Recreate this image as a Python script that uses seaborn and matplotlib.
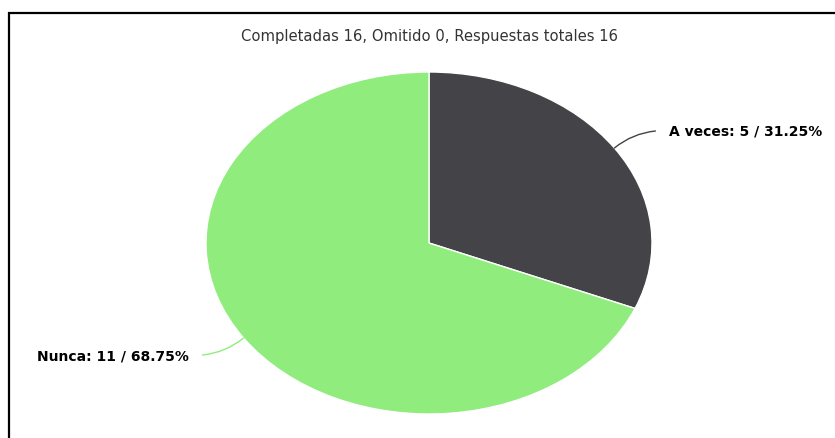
import numpy as np
import matplotlib
matplotlib.use("Agg")
import matplotlib.pyplot as plt
from matplotlib.patches import Rectangle
import seaborn as sns

# Survey answers
categories = ["A veces", "Nunca"]
counts = [5, 11]
percents = [31.25, 68.75]
title_text = "Completadas 16, Omitido 0, Respuestas totales 16"

sns.set_theme(style="white")
plt.rcParams["font.family"] = ["DejaVu Sans"]
palette = sns.color_palette(["#434348", "#90ed7d"])

W, H = 835, 439
fig = plt.figure(figsize=(W / 100, H / 100), dpi=100)
ax = fig.add_axes([0, 0, 1, 1])

wedges, _ = ax.pie(
    counts,
    colors=palette,
    startangle=90,
    counterclock=False,
    radius=1.0,
    wedgeprops=dict(edgecolor="white", linewidth=1.0),
)

# Stretched (elliptical) pie: horizontal radius 223 px, vertical 171 px
cx, cy, rx, ry = 429, 244, 223, 171
ax.set_aspect("auto")
ax.set_xlim(-cx / rx, (W - cx) / rx)
ax.set_ylim(-(H - cy) / ry, cy / ry)
ax.axis("off")

# Data labels with curved connectors
for wedge, cat, n, pct, col in zip(wedges, categories, counts, percents, palette):
    mid = np.deg2rad((wedge.theta1 + wedge.theta2) / 2)
    ax_, ay_ = np.cos(mid), np.sin(mid)
    sx, sy = np.sign(ax_), np.sign(ay_)
    ex, ey = ax_ + sx * 41 / rx, ay_ + sy * 17 / ry
    ax.annotate(
        "", xy=(ax_, ay_), xytext=(ex, ey),
        arrowprops=dict(arrowstyle="-", color=col, lw=1.0,
                        connectionstyle=f"arc3,rad={0.15 * sx * sy}",
                        shrinkA=0, shrinkB=0),
    )
    ax.text(ex + sx * 14 / rx, ey, f"{cat}: {n} / {pct:.2f}%",
            ha="left" if sx > 0 else "right", va="center",
            fontsize=10, fontweight="bold", color="black")

fig.text(430 / W, 1 - 37 / H, title_text, ha="center", va="center",
         fontsize=10.6, color="#333333")

# Outer frame
fig.add_artist(Rectangle((9 / W, -0.1), 1.2, (H - 14) / H + 0.1,
                         transform=fig.transFigure, fill=False,
                         edgecolor="black", linewidth=1.6))

fig.savefig("out.png", dpi=100, facecolor="white")
